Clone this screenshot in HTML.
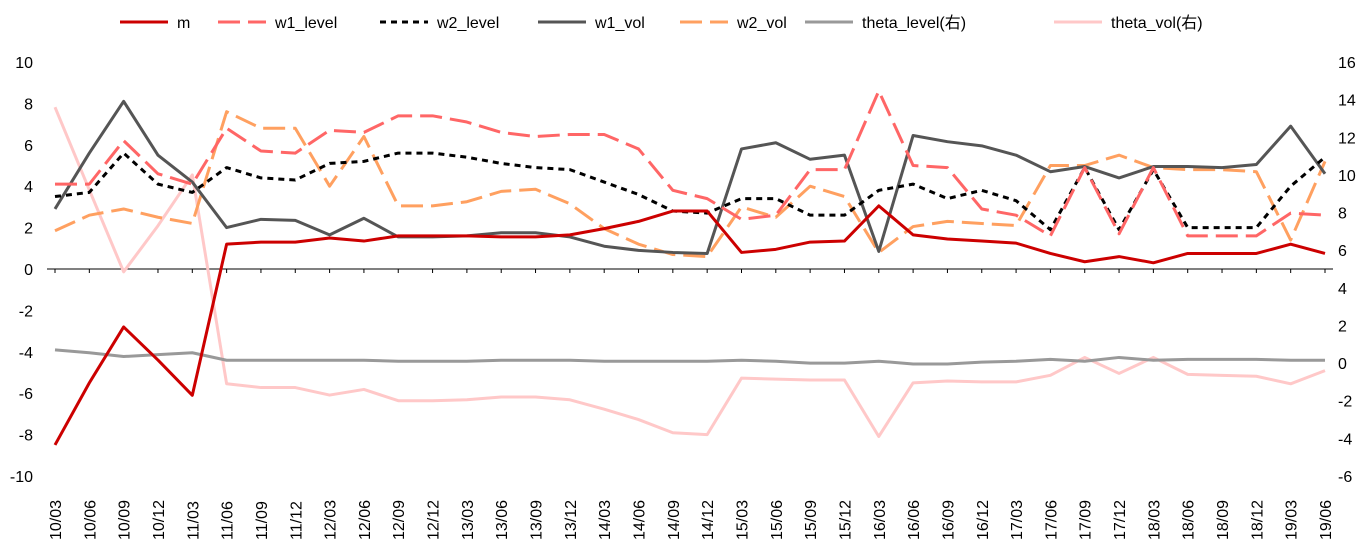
<!DOCTYPE html>
<html><head><meta charset="utf-8"><style>
body{margin:0;background:#fff;}
svg text{font-family:"Liberation Sans","Noto Sans CJK SC",sans-serif;font-size:16px;fill:#000;}
</style></head><body>
<svg id="chart" width="1365" height="549" viewBox="0 0 1365 549"></svg>
<script>
const categories=["10/03","10/06","10/09","10/12","11/03","11/06","11/09","11/12","12/03","12/06","12/09","12/12","13/03","13/06","13/09","13/12","14/03","14/06","14/09","14/12","15/03","15/06","15/09","15/12","16/03","16/06","16/09","16/12","17/03","17/06","17/09","17/12","18/03","18/06","18/09","18/12","19/03","19/06"];
const leftTicks=[10,8,6,4,2,0,-2,-4,-6,-8,-10];
const rightTicks=[16,14,12,10,8,6,4,2,0,-2,-4,-6];
const m=[-8.5,-5.5,-2.8,-4.4,-6.1,1.2,1.3,1.3,1.5,1.35,1.6,1.6,1.6,1.55,1.55,1.65,1.95,2.3,2.8,2.8,0.8,0.95,1.3,1.35,3.05,1.65,1.45,1.35,1.25,0.75,0.35,0.6,0.3,0.75,0.75,0.75,1.2,0.75];
const w1Level=[4.1,4.1,6.2,4.6,4.1,6.8,5.7,5.6,6.7,6.6,7.4,7.4,7.1,6.6,6.4,6.5,6.5,5.8,3.8,3.4,2.4,2.6,4.8,4.8,8.6,5.0,4.9,2.9,2.6,1.6,4.9,1.7,4.9,1.6,1.6,1.6,2.7,2.6];
const w2Level=[3.5,3.7,5.6,4.1,3.7,4.9,4.4,4.3,5.1,5.2,5.6,5.6,5.4,5.1,4.9,4.8,4.2,3.6,2.8,2.7,3.4,3.4,2.6,2.6,3.8,4.1,3.4,3.8,3.3,1.9,4.9,1.9,4.8,2.0,2.0,2.0,4.0,5.4];
const w1Vol=[2.9,5.6,8.1,5.5,4.2,2.0,2.4,2.35,1.65,2.45,1.55,1.55,1.6,1.75,1.75,1.55,1.1,0.9,0.8,0.75,5.8,6.1,5.3,5.5,0.85,6.45,6.15,5.95,5.5,4.7,4.95,4.4,4.95,4.95,4.9,5.05,6.9,4.6];
const w2Vol=[1.85,2.6,2.9,2.5,2.2,7.6,6.8,6.8,4.0,6.4,3.05,3.05,3.25,3.75,3.85,3.15,1.95,1.2,0.7,0.6,3.0,2.5,4.0,3.5,0.8,2.05,2.3,2.2,2.1,5.0,5.0,5.5,4.9,4.8,4.8,4.7,1.4,5.2];
const thetaLevel=[0.7,0.55,0.35,0.45,0.55,0.15,0.15,0.15,0.15,0.15,0.1,0.1,0.1,0.15,0.15,0.15,0.1,0.1,0.1,0.1,0.15,0.1,0.0,0.0,0.1,-0.05,-0.05,0.05,0.1,0.2,0.1,0.3,0.15,0.2,0.2,0.2,0.15,0.15];
const thetaVol=[13.6,9.2,4.85,7.3,10,-1.1,-1.3,-1.3,-1.7,-1.4,-2.0,-2.0,-1.95,-1.8,-1.8,-1.95,-2.45,-3.0,-3.7,-3.8,-0.8,-0.85,-0.9,-0.9,-3.9,-1.05,-0.95,-1.0,-1.0,-0.65,0.3,-0.55,0.3,-0.6,-0.65,-0.7,-1.1,-0.4];
const NS="http://www.w3.org/2000/svg",svg=document.getElementById('chart');
const X0=55,X1=1325,YT=62,YB=476;
const x=i=>X0+i*(X1-X0)/(categories.length-1);
const yL=v=>YT+(10-v)*(YB-YT)/20;
const yR=v=>YT+(16-v)*(YB-YT)/22;
function el(t,a,txt){const e=document.createElementNS(NS,t);for(const k in a)e.setAttribute(k,a[k]);if(txt!=null)e.textContent=txt;svg.appendChild(e);return e;}
const zl=el('line',{x1:X0-8,x2:X1+8,y1:yL(0),y2:yL(0),stroke:'#000','stroke-width':1});


leftTicks.forEach(v=>{const t=el('text',{x:33,y:yL(v)+6,'text-anchor':'end'},v);

});
rightTicks.forEach(v=>{const t=el('text',{x:1338,y:yR(v)+6,'text-anchor':'start'},v);

});
categories.forEach((c,i)=>{const t=el('text',{transform:`translate(${x(i)+6},${540}) rotate(-90)`,'font-size':'15'},c);


const tk=el('line',{x1:x(i),x2:x(i),y1:yL(0),y2:yL(0)+4,stroke:'#000'});

});
const series=[
{name:'m',data:m,y:yL,color:'#cc0000',dash:'',w:3},
{name:'w1_level',data:w1Level,y:yL,color:'#ff6666',dash:'22,8',w:3},
{name:'w2_level',data:w2Level,y:yL,color:'#000000',dash:'6,5',w:3},
{name:'w1_vol',data:w1Vol,y:yL,color:'#555555',dash:'',w:3},
{name:'w2_vol',data:w2Vol,y:yL,color:'#ffa060',dash:'22,8',w:3},
{name:'theta_level(右)',data:thetaLevel,y:yR,color:'#999999',dash:'',w:3},
{name:'theta_vol(右)',data:thetaVol,y:yR,color:'#ffc8c8',dash:'',w:3}];
const order=[6,5,4,3,2,1,0];
order.forEach(k=>{const s=series[k];
const p=el('polyline',{points:s.data.map((v,i)=>x(i)+','+s.y(v)).join(' '),fill:'none',stroke:s.color,'stroke-width':s.w,'stroke-dasharray':s.dash,'stroke-linejoin':'round'});

});
const lx=[120,218,380,538,680,805,1054];
series.forEach((s,k)=>{
const l=el('line',{x1:lx[k],x2:lx[k]+48,y1:22,y2:22,stroke:s.color,'stroke-width':3,'stroke-dasharray':s.dash});


const t=el('text',{x:lx[k]+57,y:28},s.name);

});
</script>
</body></html>
